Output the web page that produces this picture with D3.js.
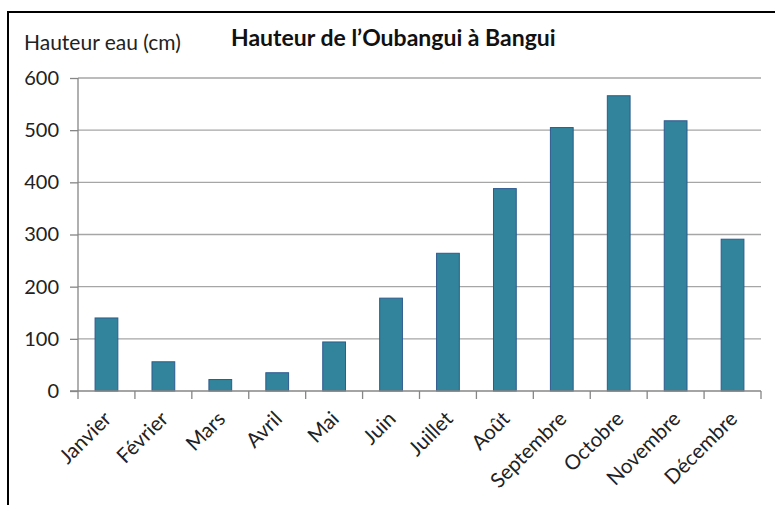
<!DOCTYPE html>
<html><head><meta charset="utf-8">
<script src="https://cdn.jsdelivr.net/npm/d3@7"></script>
<style>body{margin:0;background:#fff}svg{display:block}</style>
</head><body>
<script>
const months = ["Janvier","Février","Mars","Avril","Mai","Juin","Juillet","Août","Septembre","Octobre","Novembre","Décembre"];
const heights = [140,56,22,35,94,178,264,388,505,566,518,291];
const yTicks = [0,100,200,300,400,500,600];
const title = "Hauteur de l’Oubangui à Bangui";
const yLabel = "Hauteur eau (cm)";

(function(){
const W=775,H=505;
const svg=d3.select("body").append("svg").attr("width",W).attr("height",H);
const font="Lato, 'Open Sans', sans-serif";
// frame
svg.append("rect").attr("x",8).attr("y",12).attr("width",W).attr("height",H).attr("fill","none").attr("stroke","#000").attr("stroke-width",2);

const pL=78,pR=761,pT=78,pB=391;
const x=d3.scaleBand().domain(months).range([pL,pR]).paddingInner(0.6).paddingOuter(0.3);
const y=d3.scaleLinear().domain([0,600]).range([pB,pT]);

// grid
svg.append("g").selectAll("line").data(yTicks.filter(d=>d>0)).join("line")
 .attr("x1",pL).attr("x2",pR).attr("y1",d=>y(d)).attr("y2",d=>y(d))
 .attr("stroke","#a6a6a6").attr("stroke-width",1.3);

// y axis
const ya=svg.append("g").attr("transform",`translate(${pL},0)`).call(d3.axisLeft(y).tickValues(yTicks).tickSize(8).tickPadding(11));
ya.select(".domain").attr("stroke","#868686").attr("stroke-width",1.3).attr("d",`M0,${pT}V${pB}`);
ya.selectAll(".tick line").attr("stroke","#868686").attr("stroke-width",1.3);
ya.selectAll(".tick text").attr("font-family",font).attr("font-size",20).attr("fill","#222");

// bars
svg.append("g").selectAll("rect").data(months).join("rect")
 .attr("x",d=>x(d)).attr("width",x.bandwidth())
 .attr("y",(d,i)=>y(heights[i])).attr("height",(d,i)=>pB-y(heights[i]))
 .attr("fill","#31849b").attr("stroke","#2f5a8f").attr("stroke-width",1);

// x axis
const step=(pR-pL)/12;
const xa=svg.append("g").attr("transform",`translate(0,${pB})`);
xa.append("line").attr("x1",pL-8).attr("x2",pR).attr("stroke","#868686").attr("stroke-width",1.3);
xa.selectAll("line.t").data(d3.range(13)).join("line").attr("class","t")
 .attr("x1",i=>pL+i*step).attr("x2",i=>pL+i*step).attr("y1",0).attr("y2",8)
 .attr("stroke","#868686").attr("stroke-width",1.3);
xa.selectAll("text").data(months).join("text")
 .attr("transform",d=>`translate(${x(d)+x.bandwidth()/2-4},19) rotate(-45)`)
 .attr("text-anchor","end").attr("dy","0.7em")
 .attr("font-family",font).attr("font-size",20.5).attr("fill","#222").text(d=>d);

svg.append("text").attr("x",24).attr("y",50).attr("font-family",font).attr("font-size",21).attr("fill","#222").text(yLabel);
svg.append("text").attr("x",231).attr("y",46).attr("font-family",font).attr("font-size",23).attr("font-weight","bold").attr("fill","#111").text(title);
})();
</script>
</body></html>
